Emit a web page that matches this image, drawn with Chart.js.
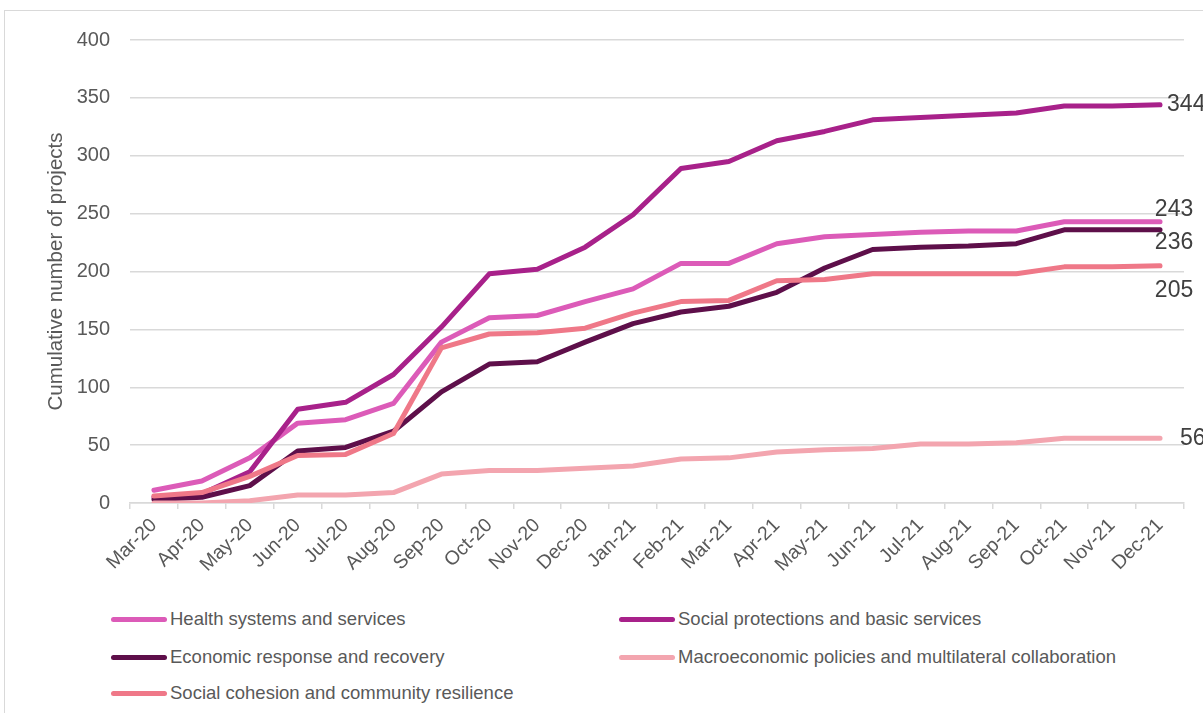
<!DOCTYPE html>
<html>
<head>
<meta charset="utf-8">
<script src="https://cdn.jsdelivr.net/npm/chart.js@4"></script>
<style>
  body { margin: 0; background: #fff; font-family: "Liberation Sans", Arial, sans-serif; }
  #wrap { position: relative; width: 1203px; height: 713px; overflow: hidden; }
  #frame { position: absolute; left: 4px; top: 10px; width: 1300px; height: 800px;
           border-left: 1.5px solid #d9d9d9; border-top: 1.5px solid #d9d9d9; }
  #chartBox { position: absolute; left: 0; top: 0; width: 1203px; height: 600px; }
  .leg { position: absolute; font-size: 18.5px; color: #595959; line-height: 20px; white-space: nowrap; }
  .leg span.swatch { position: absolute; width: 56px; height: 5px; border-radius: 3px; top: 8px; }
</style>
</head>
<body>
<div id="wrap">
  <div id="frame"></div>
  <div id="chartBox"><canvas id="projectsChart" width="1203" height="600"></canvas></div>
  <div id="legend"></div>
</div>
<script>
// months shown on the x axis
const months = ['Mar-20', 'Apr-20', 'May-20', 'Jun-20', 'Jul-20', 'Aug-20', 'Sep-20', 'Oct-20',
    'Nov-20', 'Dec-20', 'Jan-21', 'Feb-21', 'Mar-21', 'Apr-21', 'May-21', 'Jun-21', 'Jul-21',
    'Aug-21', 'Sep-21', 'Oct-21', 'Nov-21', 'Dec-21'];

const seriesNames = ['Health systems and services', 'Social protections and basic services',
    'Economic response and recovery', 'Macroeconomic policies and multilateral collaboration',
    'Social cohesion and community resilience'];

// cumulative number of projects
const health = [11, 19, 39, 69, 72, 86, 139, 160, 162, 174, 185, 207, 207, 224, 230, 232, 234, 235, 235, 243, 243, 243];
const socialProtection = [5, 8, 27, 81, 87, 111, 152, 198, 202, 221, 249, 289, 295, 313, 321, 331, 333, 335, 337, 343, 343, 344];
const economic = [3, 5, 15, 45, 48, 62, 96, 120, 122, 139, 155, 165, 170, 182, 203, 219, 221, 222, 224, 236, 236, 236];
const macroeconomic = [0, 0, 2, 7, 7, 9, 25, 28, 28, 30, 32, 38, 39, 44, 46, 47, 51, 51, 52, 56, 56, 56];
const cohesion = [6, 9, 23, 41, 42, 60, 134, 146, 147, 151, 164, 174, 175, 192, 193, 198, 198, 198, 198, 204, 204, 205];

const yTicks = [0, 50, 100, 150, 200, 250, 300, 350, 400];

const colors = ['#dc5bb8', '#a8218a', '#5e0f4a', '#f3a5af', '#ef7888'];
const allSeries = [health, socialProtection, economic, macroeconomic, cohesion];

// where the end-of-line value sits relative to the last point
const endLabelOffsets = [
    { dx: 14, dy: -12, align: 'center' },
    { dx: 7, dy: 0, align: 'left' },
    { dx: 14, dy: 13, align: 'center' },
    { dx: 20, dy: 0, align: 'left' },
    { dx: 14, dy: 25, align: 'center' }
];

const endLabels = {
    id: 'endLabels',
    afterDatasetsDraw(chart) {
        const ctx = chart.ctx;
        ctx.save();
        ctx.font = '23px "Liberation Sans", Arial, sans-serif';
        ctx.fillStyle = '#404040';
        ctx.textBaseline = 'middle';
        chart.data.datasets.forEach((ds, i) => {
            const meta = chart.getDatasetMeta(i);
            const last = meta.data[meta.data.length - 1];
            const off = endLabelOffsets[i];
            ctx.textAlign = off.align;
            ctx.fillText(String(ds.data[ds.data.length - 1]), last.x + off.dx, last.y + off.dy);
        });
        ctx.restore();
    }
};

const ctx = document.getElementById('projectsChart');
const chart = new Chart(ctx, {
    type: 'line',
    data: {
        labels: months,
        datasets: allSeries.map((values, i) => ({
            label: seriesNames[i],
            data: values,
            borderColor: colors[i],
            backgroundColor: colors[i],
            borderWidth: 5,
            borderCapStyle: 'round',
            borderJoinStyle: 'round',
            pointRadius: 0,
            tension: 0,
            fill: false,
            order: allSeries.length - i
        }))
    },
    options: {
        responsive: false,
        animation: false,
        layout: { padding: { top: 40, right: 19, left: 0, bottom: 0 } },
        plugins: {
            legend: { display: false },
            tooltip: { enabled: false }
        },
        scales: {
            x: {
                offset: true,
                afterFit: function(scale) { scale.height = 97; },
                grid: {
                    offset: true,
                    drawOnChartArea: false,
                    drawTicks: true,
                    tickLength: 6,
                    color: '#d9d9d9',
                    lineWidth: 1.5
                },
                border: { display: true, color: '#d9d9d9', width: 1.5 },
                ticks: {
                    minRotation: 45,
                    maxRotation: 45,
                    autoSkip: false,
                    padding: 5,
                    color: '#595959',
                    font: { family: '"Liberation Sans", Arial, sans-serif', size: 19.5 }
                }
            },
            y: {
                min: 0,
                max: 400,
                afterFit: function(scale) { scale.width = 130; },
                afterBuildTicks: function(scale) { scale.ticks = yTicks.map(v => ({ value: v })); },
                grid: { color: '#d9d9d9', lineWidth: 1.5, drawTicks: false },
                border: { display: false },
                ticks: {
                    padding: 20,
                    color: '#595959',
                    font: { family: '"Liberation Sans", Arial, sans-serif', size: 20 }
                },
                title: {
                    display: true,
                    text: 'Cumulative number of projects',
                    color: '#595959',
                    padding: { top: 44.5, bottom: 0 },
                    font: { family: '"Liberation Sans", Arial, sans-serif', size: 20.5 }
                }
            }
        }
    },
    plugins: [endLabels]
});

// legend laid out in two columns like the original
const legendSpots = [
    { x: 111, y: 609 }, { x: 619, y: 609 },
    { x: 111, y: 647 }, { x: 619, y: 647 },
    { x: 111, y: 683 }
];
const legendBox = document.getElementById('legend');
seriesNames.forEach((name, i) => {
    const item = document.createElement('div');
    item.className = 'leg';
    item.style.left = legendSpots[i].x + 'px';
    item.style.top = legendSpots[i].y + 'px';
    item.style.paddingLeft = '59px';
    item.innerHTML = '<span class="swatch" style="left:0;background:' + colors[i] + '"></span>' + name;
    legendBox.appendChild(item);
});
</script>
</body>
</html>
